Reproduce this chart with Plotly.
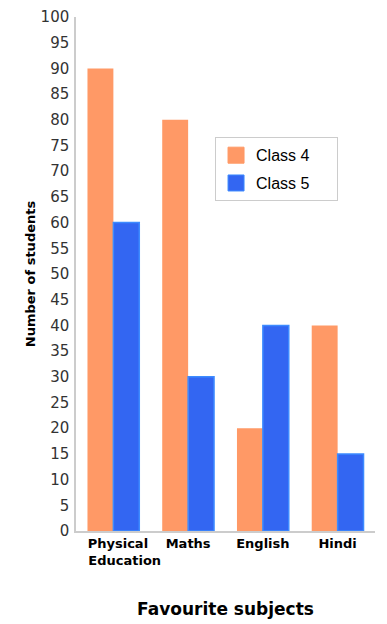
import plotly.graph_objects as go

NB = "\u00a0"
categories = [NB * 5 + "Physical" + NB * 3 + "<br>" + NB * 5 + "Education", "Maths", "English", "Hindi"]
class4 = [90, 80, 20, 40]
class5 = [60, 30, 40, 15]
tick_vals = list(range(0, 101, 5))
series_names = ["Class 4", "Class 5"]
series_colors = ["#FF9966", "#3366F2"]

fig = go.Figure()
fig.add_trace(go.Bar(x=categories, y=class4, name=series_names[0], showlegend=False,
                     marker=dict(color=series_colors[0], line=dict(width=0))))
fig.add_trace(go.Bar(x=categories, y=class5, name=series_names[1], showlegend=False,
                     marker=dict(color=series_colors[1], line=dict(color="#3D8BFF", width=1.5))))
# legend entries with larger square swatches
for i, (nm, col) in enumerate(zip(series_names, series_colors)):
    fig.add_trace(go.Scatter(x=[None], y=[None], mode="markers", name=nm + NB * 5,
                             legendgroup=f"g{i}",
                             marker=dict(symbol="square", size=17, color=col,
                                         line=dict(width=1, color="#3D8BFF" if i else col))))

# page body has an 8px default margin, so the figure is offset by 8px
fig.update_layout(
    width=379, height=616,
    margin=dict(l=68, r=12, t=9, b=93),
    plot_bgcolor="white", paper_bgcolor="white",
    barmode="group", bargap=0.307, bargroupgap=0,
    font=dict(family="DejaVu Sans", color="#222"),
    legend=dict(x=0.465, y=0.766, xanchor="left", yanchor="top",
                bordercolor="#cccccc", borderwidth=1, bgcolor="white",
                font=dict(family="Liberation Sans, Arial", size=16, color="black"),
                tracegroupgap=4, itemwidth=30),
    xaxis=dict(showline=True, linecolor="#cccccc", linewidth=1.5, showgrid=False, automargin=False,
               ticks="", ticklabelstandoff=0,
               tickfont=dict(family="DejaVu Sans", size=13, color="black", weight="bold"),
               title=dict(text="<b>Favourite subjects</b>", font=dict(family="DejaVu Sans", size=17, color="black"),
                          standoff=36)),
    yaxis=dict(range=[0, 100], tickvals=tick_vals, showline=True, linecolor="#cccccc", linewidth=1.5,
               showgrid=False, zeroline=False, ticks="", ticklabelstandoff=2, automargin=False,
               tickfont=dict(family="DejaVu Sans", size=15, color="#333"),
               title=dict(text="<b>Number of students</b>", font=dict(family="DejaVu Sans", size=13, color="black"),
                          standoff=2)),
)

fig.write_html("out.html")
